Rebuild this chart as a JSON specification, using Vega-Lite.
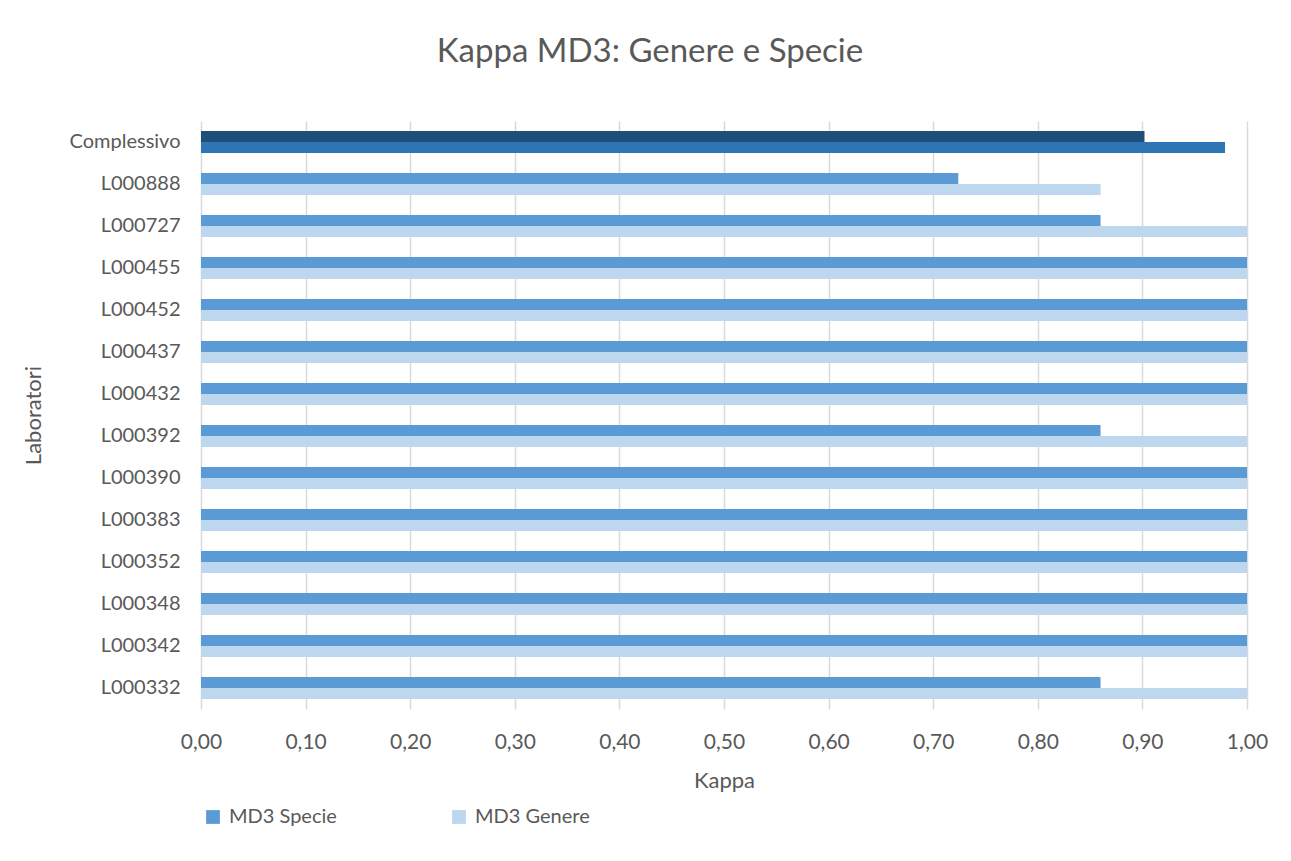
{
  "$schema": "https://vega.github.io/schema/vega-lite/v6.json",
  "autosize": "none",
  "width": 1046,
  "height": 588,
  "padding": {"left": 201, "top": 121, "right": 44, "bottom": 152},
  "background": "white",
  "title": {
    "text": "Kappa MD3: Genere e Specie",
    "font": "Lato",
    "fontSize": 33,
    "fontWeight": "normal",
    "color": "#595959",
    "anchor": "middle",
    "dx": -74,
    "offset": 52
  },
  "config": {
    "view": {"stroke": null},
    "font": "Lato"
  },
  "data": {
    "values": [
      {"lab": "Complessivo", "series": "MD3 Specie", "kappa": 0.902},
      {"lab": "Complessivo", "series": "MD3 Genere", "kappa": 0.979},
      {"lab": "L000888", "series": "MD3 Specie", "kappa": 0.724},
      {"lab": "L000888", "series": "MD3 Genere", "kappa": 0.86},
      {"lab": "L000727", "series": "MD3 Specie", "kappa": 0.86},
      {"lab": "L000727", "series": "MD3 Genere", "kappa": 1.0},
      {"lab": "L000455", "series": "MD3 Specie", "kappa": 1.0},
      {"lab": "L000455", "series": "MD3 Genere", "kappa": 1.0},
      {"lab": "L000452", "series": "MD3 Specie", "kappa": 1.0},
      {"lab": "L000452", "series": "MD3 Genere", "kappa": 1.0},
      {"lab": "L000437", "series": "MD3 Specie", "kappa": 1.0},
      {"lab": "L000437", "series": "MD3 Genere", "kappa": 1.0},
      {"lab": "L000432", "series": "MD3 Specie", "kappa": 1.0},
      {"lab": "L000432", "series": "MD3 Genere", "kappa": 1.0},
      {"lab": "L000392", "series": "MD3 Specie", "kappa": 0.86},
      {"lab": "L000392", "series": "MD3 Genere", "kappa": 1.0},
      {"lab": "L000390", "series": "MD3 Specie", "kappa": 1.0},
      {"lab": "L000390", "series": "MD3 Genere", "kappa": 1.0},
      {"lab": "L000383", "series": "MD3 Specie", "kappa": 1.0},
      {"lab": "L000383", "series": "MD3 Genere", "kappa": 1.0},
      {"lab": "L000352", "series": "MD3 Specie", "kappa": 1.0},
      {"lab": "L000352", "series": "MD3 Genere", "kappa": 1.0},
      {"lab": "L000348", "series": "MD3 Specie", "kappa": 1.0},
      {"lab": "L000348", "series": "MD3 Genere", "kappa": 1.0},
      {"lab": "L000342", "series": "MD3 Specie", "kappa": 1.0},
      {"lab": "L000342", "series": "MD3 Genere", "kappa": 1.0},
      {"lab": "L000332", "series": "MD3 Specie", "kappa": 0.86},
      {"lab": "L000332", "series": "MD3 Genere", "kappa": 1.0}
    ]
  },
  "encoding": {
    "y": {
      "field": "lab",
      "type": "nominal",
      "sort": ["Complessivo", "L000888", "L000727", "L000455", "L000452", "L000437", "L000432", "L000392", "L000390", "L000383", "L000352", "L000348", "L000342", "L000332"],
      "scale": {"paddingInner": 0.476, "paddingOuter": 0.238},
      "axis": {
        "title": "Laboratori",
        "titleFont": "Lato",
        "titleFontSize": 22,
        "titleFontWeight": "normal",
        "titleColor": "#595959",
        "titleAngle": -90,
        "titleX": -168,
        "titleY": 294,
        "titleAlign": "center",
        "titleBaseline": "middle",
        "labelFont": "Lato",
        "labelFontSize": 20,
        "labelColor": "#595959",
        "labelPadding": 21,
        "ticks": false,
        "domain": false,
        "grid": false
      }
    },
    "x": {
      "field": "kappa",
      "type": "quantitative",
      "scale": {"domain": [0, 1], "nice": false},
      "axis": {
        "title": "Kappa",
        "titleFont": "Lato",
        "titleFontSize": 22,
        "titleFontWeight": "normal",
        "titleColor": "#595959",
        "titleY": 71,
        "titleBaseline": "middle",
        "values": [0, 0.1, 0.2, 0.3, 0.4, 0.5, 0.6, 0.7, 0.8, 0.9, 1.0],
        "labelExpr": "replace(format(datum.value, '.2f'), '.', ',')",
        "labelFlush": false,
        "labelFont": "Lato",
        "labelFontSize": 21,
        "labelColor": "#595959",
        "labelPadding": 22,
        "ticks": false,
        "domain": false,
        "grid": true,
        "gridColor": "#D9D9D9",
        "gridWidth": 1.5
      }
    },
    "yOffset": {
      "field": "series",
      "type": "nominal",
      "sort": ["MD3 Specie", "MD3 Genere"],
      "scale": {"paddingInner": 0, "paddingOuter": 0}
    }
  },
  "layer": [
    {
      "transform": [{"filter": "datum.lab != 'Complessivo'"}],
      "mark": {"type": "bar"},
      "encoding": {
        "color": {
          "field": "series",
          "type": "nominal",
          "scale": {"domain": ["MD3 Specie", "MD3 Genere"], "range": ["#5B9BD5", "#BDD7EE"]},
          "legend": {
            "title": null,
            "orient": "none",
            "direction": "horizontal",
            "legendX": 2,
            "legendY": 686,
            "symbolType": "square",
            "symbolSize": 190,
            "symbolStrokeWidth": 0,
            "symbolOpacity": 1,
            "labelFont": "Lato",
            "labelFontSize": 20,
            "labelColor": "#595959",
            "labelOffset": 6,
            "columnPadding": 112
          }
        }
      }
    },
    {
      "transform": [{"filter": "datum.lab == 'Complessivo'"}],
      "mark": {"type": "bar"},
      "encoding": {
        "color": {
          "field": "series",
          "type": "nominal",
          "scale": {"domain": ["MD3 Specie", "MD3 Genere"], "range": ["#1F4E79", "#2E75B6"]},
          "legend": null
        }
      }
    }
  ],
  "resolve": {"scale": {"color": "independent"}}
}
